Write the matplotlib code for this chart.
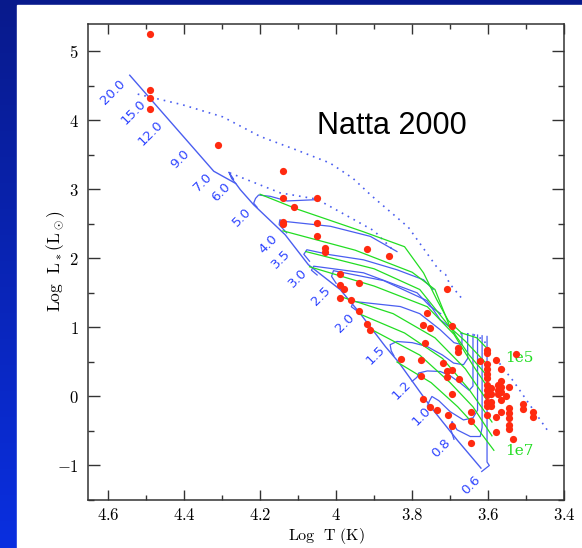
import numpy as np
import matplotlib
matplotlib.use("Agg")
import matplotlib.pyplot as plt
from matplotlib.patches import Rectangle
from matplotlib.ticker import MultipleLocator, FuncFormatter
from matplotlib.colors import LinearSegmentedColormap

# ---------------- data ----------------
# observed stars (log T, log L)
star_logt = [4.490, 4.490, 4.490, 4.490, 4.311, 4.140, 4.140, 4.051, 4.110, 4.140, 4.140,
             4.051, 4.051, 4.029, 4.029, 3.920, 3.860, 3.991, 3.991, 3.980, 3.940, 3.991,
             3.960, 3.940, 3.920, 3.910, 3.708, 3.761, 3.772, 3.754, 3.696, 3.766, 3.830,
             3.777, 3.777, 3.772, 3.754, 3.735, 3.707, 3.696, 3.696, 3.719, 3.708, 3.708,
             3.695, 3.677, 3.679, 3.679, 3.644, 3.644, 3.644, 3.622,
             3.602, 3.602, 3.602, 3.602, 3.602, 3.602, 3.602, 3.602, 3.602, 3.602, 3.602, 3.602,
             3.593, 3.593, 3.593, 3.593, 3.580, 3.565, 3.565, 3.565, 3.565, 3.575, 3.575, 3.575,
             3.554, 3.565, 3.544, 3.580, 3.580, 3.565, 3.544, 3.544, 3.544, 3.544, 3.544,
             3.535, 3.526, 3.509, 3.509, 3.483, 3.483]
star_logl = [5.259, 4.447, 4.330, 4.162, 3.645, 3.269, 2.873, 2.878, 2.741, 2.523, 2.497,
             2.518, 2.320, 2.147, 2.096, 2.137, 2.030, 1.772, 1.609, 1.553, 1.650, 1.421,
             1.401, 1.234, 1.051, 0.964, 1.553, 1.208, 1.036, 0.995, 1.015, 0.777, 0.548,
             0.533, 0.299, -0.030, -0.152, -0.193, -0.274, -0.426, 0.036, 0.492, 0.371, 0.284,
             0.386, 0.259, 0.706, 0.645, -0.228, -0.350, -0.675, 0.513,
             0.675, 0.624, 0.472, 0.396, 0.320, 0.269, 0.168, 0.091, 0.015, -0.086, -0.137, -0.264,
             0.117, 0.041, -0.086, -0.137, 0.533, 0.396, 0.218, 0.142, 0.066, 0.168, 0.091, 0.041,
             0.000, -0.046, 0.142, -0.299, -0.518, -0.228, -0.162, -0.239, -0.315, -0.416, -0.467,
             -0.619, 0.614, -0.102, -0.188, -0.223, -0.299]

# zero-age main sequence (solid blue)
zams_logt = [4.543, 4.322, 4.264, 4.252, 4.217, 4.134, 4.073, 3.989, 3.941, 3.870, 3.836, 3.752, 3.682, 3.619]
zams_logl = [4.655, 3.264, 3.086, 2.996, 2.778, 2.343, 1.909, 1.547, 1.232, 0.720, 0.500, -0.145, -0.628, -1.038]

# pre-main-sequence tracks (solid blue)
trk_60_t = [4.264, 4.275, 4.282, 4.270]
trk_60_l = [3.086, 3.160, 3.250, 3.150]
trk_50_t = [4.051, 4.129, 4.173, 4.204, 4.212, 4.217, 4.208]
trk_50_l = [2.852, 2.833, 2.900, 2.919, 2.870, 2.800, 2.742]
trk_40_t = [3.840, 3.910, 4.015, 4.138, 4.148, 4.150, 4.130]
trk_40_l = [2.100, 2.320, 2.466, 2.538, 2.560, 2.490, 2.370]
trk_35_t = [3.745, 3.770, 3.840, 3.928, 4.015, 4.077, 4.085, 4.070]
trk_35_l = [1.550, 1.691, 1.836, 1.980, 2.053, 2.126, 2.060, 1.960]
trk_30_t = [3.725, 3.753, 3.787, 3.928, 4.059, 4.065, 4.050]
trk_30_l = [1.200, 1.307, 1.502, 1.792, 1.888, 1.830, 1.760]
trk_25_t = [3.700, 3.726, 3.761, 3.875, 4.007, 4.012, 4.000]
trk_25_l = [1.000, 1.111, 1.389, 1.679, 1.823, 1.740, 1.640]
trk_20_t = [3.669, 3.669, 3.690, 3.726, 3.780, 3.831, 3.954, 3.960, 3.945]
trk_20_l = [0.920, 0.750, 0.780, 0.966, 1.200, 1.303, 1.377, 1.300, 1.240]
trk_15_t = [3.654, 3.654, 3.665, 3.691, 3.720, 3.761, 3.800, 3.840, 3.858, 3.855, 3.848]
trk_15_l = [0.910, 0.550, 0.460, 0.484, 0.600, 0.725, 0.780, 0.797, 0.750, 0.660, 0.590]
trk_12_t = [3.640, 3.640, 3.650, 3.673, 3.700, 3.726, 3.760, 3.783, 3.787, 3.800]
trk_12_l = [0.900, 0.150, 0.090, 0.194, 0.300, 0.362, 0.370, 0.340, 0.280, 0.220]
trk_10_t = [3.628, 3.628, 3.640, 3.665, 3.700, 3.730, 3.748, 3.755, 3.760]
trk_10_l = [0.890, -0.200, -0.310, -0.340, -0.220, -0.060, 0.000, -0.070, -0.140]
trk_08_t = [3.616, 3.616, 3.621, 3.647, 3.682, 3.695, 3.700, 3.690]
trk_08_l = [0.880, -0.450, -0.580, -0.580, -0.483, -0.362, -0.450, -0.620]
trk_06_t = [3.603, 3.603, 3.597, 3.617]
trk_06_l = [0.870, -0.950, -1.000, -1.087]

# birthlines (dotted blue)
birth_hi_t = [4.522, 4.405, 4.298, 4.200, 4.103, 4.016, 3.956, 3.907, 3.810, 3.731, 3.712, 3.702, 3.668]
birth_hi_l = [4.381, 4.228, 4.051, 3.768, 3.569, 3.382, 3.162, 2.909, 2.452, 1.843, 1.766, 1.640, 1.411]
birth_lo_t = [4.280, 4.147, 4.051, 3.972, 3.900, 3.850]
birth_lo_l = [3.240, 2.950, 2.860, 2.620, 2.400, 2.120]
birth_lm_t = [3.691, 3.640, 3.612, 3.600]
birth_lm_l = [0.918, 0.900, 0.822, 0.700]
birth_tail_t = [3.581, 3.533, 3.445]
birth_tail_l = [0.556, 0.217, -0.483]

# isochrones (green), 1e5 yr (top) ... 1e7 yr (bottom)
iso_1_t = [4.200, 4.100, 3.930, 3.820, 3.770, 3.735, 3.705, 3.670, 3.630, 3.600]
iso_1_l = [2.930, 2.710, 2.390, 2.170, 1.790, 1.400, 1.100, 0.920, 0.850, 0.680]
iso_2_t = [4.140, 3.950, 3.800, 3.740, 3.700, 3.660, 3.600]
iso_2_l = [2.400, 2.120, 1.800, 1.550, 1.000, 0.800, 0.450]
iso_3_t = [4.080, 3.900, 3.780, 3.700, 3.650, 3.595]
iso_3_l = [2.100, 1.850, 1.550, 1.000, 0.600, 0.250]
iso_4_t = [4.070, 3.900, 3.760, 3.690, 3.640, 3.590]
iso_4_l = [1.880, 1.600, 1.300, 0.900, 0.450, 0.040]
iso_5_t = [3.990, 3.850, 3.740, 3.660, 3.590]
iso_5_l = [1.450, 1.200, 0.850, 0.400, -0.160]
iso_6_t = [3.940, 3.820, 3.720, 3.650, 3.590]
iso_6_l = [1.200, 0.920, 0.550, 0.100, -0.370]
iso_7_t = [3.900, 3.780, 3.700, 3.640, 3.590]
iso_7_l = [0.950, 0.600, 0.200, -0.150, -0.570]
iso_8_t = [3.840, 3.750, 3.680, 3.630, 3.585]
iso_8_l = [0.500, 0.200, -0.150, -0.450, -0.780]

# mass labels along the main sequence
mass_labels = ["20.0", "15.0", "12.0", "9.0", "7.0", "6.0", "5.0", "4.0", "3.5", "3.0",
               "2.5", "2.0", "1.5", "1.2", "1.0", "0.8", "0.6"]
mass_lab_t = [4.586, 4.532, 4.488, 4.410, 4.352, 4.303, 4.249, 4.179, 4.144, 4.101,
              4.039, 3.978, 3.897, 3.827, 3.775, 3.724, 3.644]
mass_lab_l = [4.406, 4.117, 3.812, 3.442, 3.102, 2.960, 2.604, 2.208, 1.985, 1.716,
              1.462, 1.056, 0.599, 0.091, -0.289, -0.746, -1.279]

x_ticks = [4.6, 4.4, 4.2, 4.0, 3.8, 3.6, 3.4]
y_ticks = [-1, 0, 1, 2, 3, 4, 5]

# ---------------- figure ----------------
plt.rcParams['mathtext.fontset'] = 'cm'
fig = plt.figure(figsize=(5.82, 5.48), dpi=100)

# slide background: blue gradient frame
bg = fig.add_axes([0, 0, 1, 1])
bg.set_axis_off()
grad = np.linspace(0, 1, 256).reshape(-1, 1)
cmap = LinearSegmentedColormap.from_list("slide", ["#081a8c", "#0a2fe0"])
bg.imshow(grad, aspect='auto', cmap=cmap, extent=[0, 1, 0, 1], origin='upper')
bg.add_patch(Rectangle((17 / 582, 0), 1, 1 - 5 / 548, color='white', transform=bg.transAxes))
bg.set_xlim(0, 1)
bg.set_ylim(0, 1)

ax = fig.add_axes([88.3 / 582, 1 - 500 / 548, 475.9 / 582, 476.2 / 548])
ax.set_facecolor('white')

blue = '#4a5ef0'
green = '#22dd22'
red = '#ff2a10'

ax.plot(zams_logt, zams_logl, color=blue, lw=1.0)
for tt, ll in [(trk_60_t, trk_60_l), (trk_50_t, trk_50_l), (trk_40_t, trk_40_l),
               (trk_35_t, trk_35_l), (trk_30_t, trk_30_l), (trk_25_t, trk_25_l),
               (trk_20_t, trk_20_l), (trk_15_t, trk_15_l), (trk_12_t, trk_12_l),
               (trk_10_t, trk_10_l), (trk_08_t, trk_08_l), (trk_06_t, trk_06_l)]:
    ax.plot(tt, ll, color=blue, lw=0.9)
for tt, ll in [(birth_hi_t, birth_hi_l), (birth_lo_t, birth_lo_l),
               (birth_lm_t, birth_lm_l), (birth_tail_t, birth_tail_l)]:
    ax.plot(tt, ll, color=blue, lw=1.2, ls=(0, (1, 3)))
for tt, ll in [(iso_1_t, iso_1_l), (iso_2_t, iso_2_l), (iso_3_t, iso_3_l), (iso_4_t, iso_4_l),
               (iso_5_t, iso_5_l), (iso_6_t, iso_6_l), (iso_7_t, iso_7_l), (iso_8_t, iso_8_l)]:
    ax.plot(tt, ll, color=green, lw=0.9)

ax.plot(star_logt, star_logl, 'o', color=red, ms=5.2, mec='none', zorder=5)

for lab, tt, ll in zip(mass_labels, mass_lab_t, mass_lab_l):
    ax.text(tt, ll, lab, color='#2f45ff', fontsize=9.5, rotation=45, fontweight='medium',
            ha='center', va='center', family='DejaVu Sans')

ax.text(3.556, 0.563, '1e5', color=green, fontsize=11, family='DejaVu Serif', ha='left', va='center')
ax.text(3.556, -0.797, '1e7', color=green, fontsize=11, family='DejaVu Serif', ha='left', va='center')

ax.text(4.05, 3.807, 'Natta 2000', fontsize=22, family='Liberation Sans', ha='left', va='baseline')

ax.set_xlim(4.652, 3.4)
ax.set_ylim(-1.5, 5.4)
ax.set_xticks(x_ticks)
ax.set_yticks(y_ticks)
ax.xaxis.set_minor_locator(MultipleLocator(0.1))
ax.yaxis.set_minor_locator(MultipleLocator(0.5))
fmt = FuncFormatter(lambda v, p: r'$%g$' % round(v, 2))
ax.xaxis.set_major_formatter(fmt)
ax.yaxis.set_major_formatter(fmt)
ax.tick_params(which='both', direction='in', top=True, right=True, colors='#333333',
               labelcolor='black', labelsize=12)
ax.tick_params(axis='x', which='major', length=7, width=1.0, pad=4)
ax.tick_params(axis='x', which='minor', length=3.5, width=1.0)
ax.tick_params(axis='y', which='major', length=8.5, width=1.0, pad=7)
ax.tick_params(axis='y', which='minor', length=4.5, width=1.0)
for s in ax.spines.values():
    s.set_color('#333333')
    s.set_linewidth(1.1)

ax.set_xlabel(r'$\mathrm{Log\ \ T\ (K)}$', fontsize=11.5)
ax.set_ylabel(r'$\mathrm{Log\ \ L_*(L_\odot)}$', fontsize=12.5)
ax.xaxis.set_label_coords(0.5, -0.054)
ax.yaxis.set_label_coords(-0.045, 0.502)

fig.savefig('out.png', dpi=100)
